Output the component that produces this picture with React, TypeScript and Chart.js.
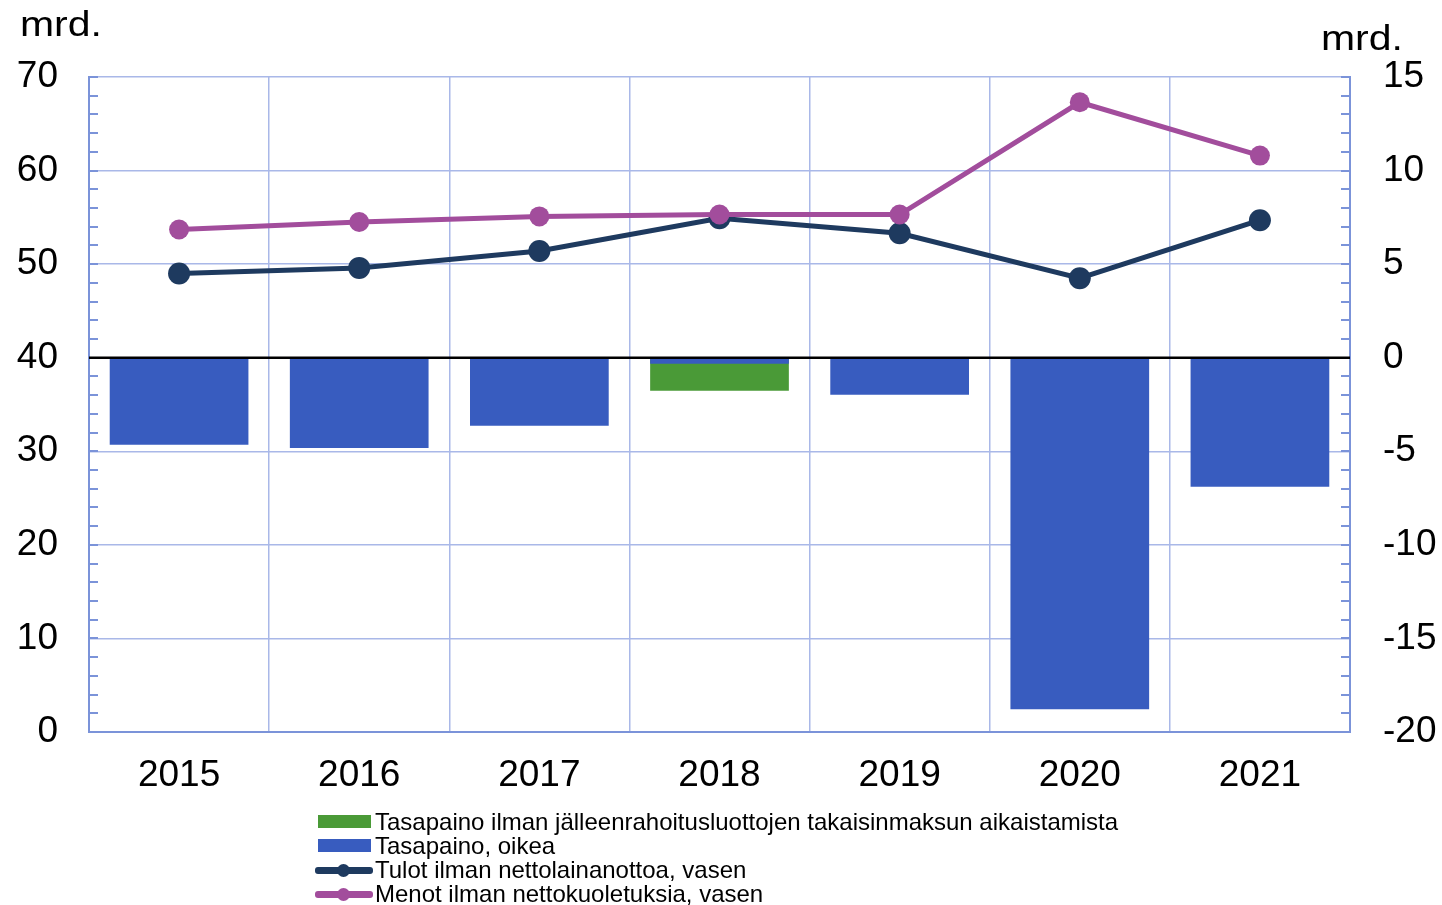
import React, { useEffect, useRef } from "react";
import { Chart, registerables } from "chart.js";
Chart.register(...registerables);

const years = ["2015", "2016", "2017", "2018", "2019", "2020", "2021"];
const balanceExclAcceleration = [null, null, null, -1.77, null, null, null];
const balanceRight = [-4.65, -4.82, -3.64, -0.32, -1.98, -18.78, -6.9];
const revenueLeft = [49.0, 49.6, 51.4, 54.9, 53.3, 48.5, 54.7];
const expenditureLeft = [53.7, 54.5, 55.1, 55.3, 55.3, 67.3, 61.6];
const minorTicksRight = [-20, -19, -18, -17, -16, -15, -14, -13, -12, -11, -10, -9, -8, -7, -6, -5, -4, -3, -2, -1, 0, 1, 2, 3, 4, 5, 6, 7, 8, 9, 10, 11, 12, 13, 14, 15];

const labels = [
  "Tasapaino ilman jälleenrahoitusluottojen takaisinmaksun aikaistamista",
  "Tasapaino, oikea",
  "Tulot ilman nettolainanottoa, vasen",
  "Menot ilman nettokuoletuksia, vasen",
];

const GREEN = "#4a9a37";
const BLUE = "#385cbf";
const NAVY = "#1e3a5f";
const PURPLE = "#a24d9c";
const GRID = "#a9b8e8";
const BORDER = "#7b93d9";
const FONT = "'Liberation Sans', Arial, sans-serif";

const deco = {
  id: "deco",
  afterDatasetsDraw(chart: any) {
    const { ctx, chartArea, scales } = chart;
    const { left, right } = chartArea;
    const y1 = scales.y1;
    ctx.save();
    ctx.strokeStyle = BORDER;
    ctx.lineWidth = 2;
    for (const v of minorTicksRight) {
      const py = Math.round(y1.getPixelForValue(v));
      ctx.beginPath();
      ctx.moveTo(left, py);
      ctx.lineTo(left + 9, py);
      ctx.moveTo(right, py);
      ctx.lineTo(right - 9, py);
      ctx.stroke();
    }
    const z = y1.getPixelForValue(0);
    ctx.strokeStyle = "#000";
    ctx.lineWidth = 2.5;
    ctx.beginPath();
    ctx.moveTo(left, z);
    ctx.lineTo(right, z);
    ctx.stroke();
    ctx.restore();
  },
};

export default function App() {
  const ref = useRef<HTMLCanvasElement>(null);
  useEffect(() => {
    document.body.style.margin = "0";
    const chart = new Chart(ref.current!, {
      type: "bar",
      data: {
        labels: years,
        datasets: [
          {
            type: "line",
            label: labels[3],
            data: expenditureLeft,
            yAxisID: "y",
            borderColor: PURPLE,
            backgroundColor: PURPLE,
            borderWidth: 5,
            pointRadius: 10,
            pointBackgroundColor: PURPLE,
            pointBorderWidth: 0,
            order: 0,
          },
          {
            type: "line",
            label: labels[2],
            data: revenueLeft,
            yAxisID: "y",
            borderColor: NAVY,
            backgroundColor: NAVY,
            borderWidth: 5,
            pointRadius: 11,
            pointBackgroundColor: NAVY,
            pointBorderWidth: 0,
            order: 0,
          },
          {
            type: "bar",
            label: labels[1],
            data: balanceRight,
            yAxisID: "y1",
            backgroundColor: BLUE,
            barPercentage: 0.77,
            categoryPercentage: 1,
            order: 1,
          },
          {
            type: "bar",
            label: labels[0],
            data: balanceExclAcceleration as any,
            yAxisID: "y1",
            backgroundColor: GREEN,
            barPercentage: 0.77,
            categoryPercentage: 1,
            order: 2,
          },
        ],
      },
      options: {
        animation: false,
        responsive: false,
        maintainAspectRatio: false,
        layout: { padding: { top: 77, left: 0, right: 0, bottom: 0 } },
        plugins: { legend: { display: false }, tooltip: { enabled: false }, title: { display: false } },
        scales: {
          x: {
            stacked: true,
            offset: true,
            grid: { color: GRID, lineWidth: 1.5, drawTicks: false, offset: true },
            border: { color: BORDER, width: 2 },
            ticks: { color: "#000", font: { family: FONT, size: 37 }, padding: 22 },
            afterFit: (s: any) => { s.height = 173; },
          },
          y: {
            position: "left",
            min: 0,
            max: 70,
            stacked: false,
            ticks: { stepSize: 10, color: "#000", font: { family: FONT, size: 37 }, padding: 31 },
            grid: { color: GRID, lineWidth: 1.5, drawTicks: false },
            border: { color: BORDER, width: 2 },
            afterFit: (s: any) => { s.width = 89; },
          },
          y1: {
            position: "right",
            min: -20,
            max: 15,
            stacked: false,
            ticks: { stepSize: 5, color: "#000", font: { family: FONT, size: 37 }, padding: 33 },
            grid: { drawOnChartArea: false, drawTicks: false },
            border: { color: BORDER, width: 2 },
            afterFit: (s: any) => { s.width = 92; },
          },
        },
      },
      plugins: [deco],
    } as any);
    return () => chart.destroy();
  }, []);

  const textStyle: React.CSSProperties = {
    position: "absolute",
    fontFamily: FONT,
    fontSize: 24,
    color: "#000",
    whiteSpace: "nowrap",
    lineHeight: "24px",
  };
  const rowsY = [822, 846, 870, 894];
  const swatch = (i: number) => {
    const y = rowsY[i];
    if (i < 2) {
      return (
        <div key={"s" + i} style={{ position: "absolute", left: 318, top: y - 7, width: 53, height: 13, background: i === 0 ? GREEN : BLUE }} />
      );
    }
    const c = i === 2 ? NAVY : PURPLE;
    return (
      <div key={"s" + i}>
        <div style={{ position: "absolute", left: 315, top: y - 3, width: 58, height: 7, background: c, borderRadius: 3 }} />
        <div style={{ position: "absolute", left: 337, top: y - 6, width: 13, height: 13, background: c, borderRadius: "50%" }} />
      </div>
    );
  };

  const mrdStyle: React.CSSProperties = {
    position: "absolute",
    fontFamily: FONT,
    fontSize: 35,
    lineHeight: "40px",
    transform: "scaleX(1.17)",
    transformOrigin: "left top",
    whiteSpace: "nowrap",
  };

  return (
    <div style={{ position: "relative", width: 1442, height: 905, background: "#fff", overflow: "hidden" }}>
      <canvas ref={ref} width={1442} height={905} style={{ position: "absolute", left: 0, top: 0, width: 1442, height: 905 }} />
      <div style={{ ...mrdStyle, left: 20, top: 4 }}>mrd.</div>
      <div style={{ ...mrdStyle, left: 1321, top: 18 }}>mrd.</div>
      {labels.map((_, i) => swatch(i))}
      {labels.map((t, i) => (
        <div key={"t" + i} style={{ ...textStyle, left: 375, top: rowsY[i] - 12 }}>{t}</div>
      ))}
    </div>
  );
}
